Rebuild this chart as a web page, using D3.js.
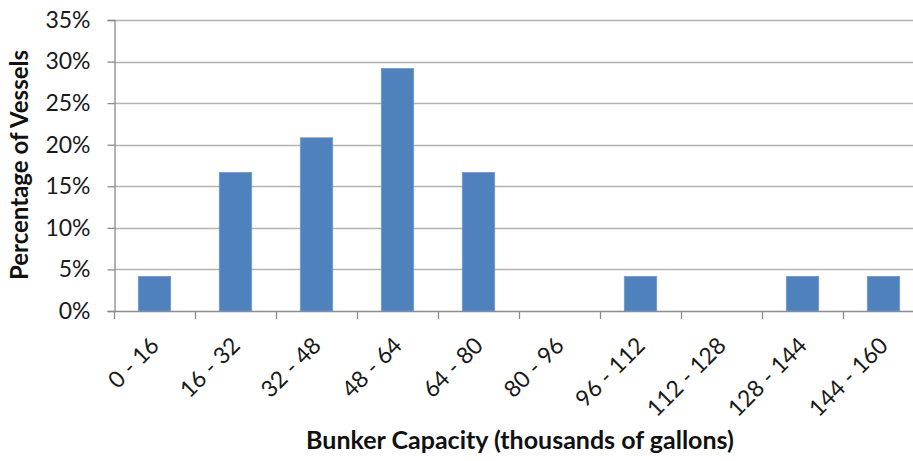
<!DOCTYPE html>
<html>
<head>
<meta charset="utf-8">
<script src="https://cdn.jsdelivr.net/npm/d3@7"></script>
<style>
  html, body { margin: 0; padding: 0; background: #fff; }
  svg { display: block; }
</style>
</head>
<body>
<svg id="chart" width="913" height="461"></svg>
<script>
// Bunker capacity bins (thousands of gallons) and share of vessels in each
const categories = ["0 - 16", "16 - 32", "32 - 48", "48 - 64", "64 - 80",
                    "80 - 96", "96 - 112", "112 - 128", "128 - 144", "144 - 160"];
const vesselCounts = [1, 4, 5, 7, 4, 0, 1, 0, 1, 1];
const totalVessels = 24;
const percentages = vesselCounts.map(c => c / totalVessels);
const yTicks = [0, 0.05, 0.10, 0.15, 0.20, 0.25, 0.30, 0.35];

const svg = d3.select("#chart");
const margin = { left: 114, top: 20, right: -11 };
const W = 913;
const plotBottom = 311;

const x = d3.scaleBand()
  .domain(categories)
  .range([margin.left, W - margin.right])
  .paddingInner(0.6)
  .paddingOuter(0.3);

const y = d3.scaleLinear()
  .domain([0, 0.35])
  .range([plotBottom, margin.top]);

const font = "Lato, 'Open Sans', sans-serif";
const gridColor = "#b3b3b3";
const axisColor = "#8c8c8c";
const textColor = "#1a1a1a";

// horizontal gridlines
svg.append("g")
  .selectAll("line")
  .data(yTicks.slice(1))
  .join("line")
  .attr("x1", margin.left)
  .attr("x2", W - margin.right)
  .attr("y1", d => Math.round(y(d)) + 0.5)
  .attr("y2", d => Math.round(y(d)) + 0.5)
  .attr("stroke", gridColor)
  .attr("stroke-width", 1.5);

// bars
svg.append("g")
  .selectAll("rect")
  .data(categories.map((c, i) => ({ c, v: percentages[i] })))
  .join("rect")
  .attr("x", d => x(d.c))
  .attr("width", x.bandwidth())
  .attr("y", d => y(d.v))
  .attr("height", d => y(0) - y(d.v))
  .attr("fill", "#4F81BD")
  .attr("stroke", "#6b9bd1")
  .attr("stroke-width", d => d.v > 0 ? 0.8 : 0);

// y axis
const yAxis = svg.append("g")
  .attr("transform", `translate(${margin.left + 0.5},0)`)
  .call(d3.axisLeft(y).tickValues(yTicks).tickFormat(d3.format(".0%")).tickSize(7).tickPadding(17));
yAxis.select(".domain").attr("stroke", axisColor).attr("stroke-width", 1.3);
yAxis.selectAll(".tick line").attr("stroke", axisColor).attr("stroke-width", 1.3);
yAxis.selectAll(".tick text")
  .attr("font-family", font)
  .attr("font-size", 23)
  .attr("fill", textColor);

// x axis: ticks at bin boundaries
const step = x.step();
const boundaries = d3.range(categories.length + 1).map(i => margin.left + i * step);
const xg = svg.append("g");
xg.append("line")
  .attr("x1", margin.left)
  .attr("x2", W - margin.right)
  .attr("y1", plotBottom + 0.5)
  .attr("y2", plotBottom + 0.5)
  .attr("stroke", axisColor)
  .attr("stroke-width", 1.3);
xg.selectAll("line.tick")
  .data(boundaries)
  .join("line")
  .attr("class", "tick")
  .attr("x1", d => Math.round(d) + 0.5)
  .attr("x2", d => Math.round(d) + 0.5)
  .attr("y1", plotBottom)
  .attr("y2", plotBottom + 8)
  .attr("stroke", axisColor)
  .attr("stroke-width", 1.3);

// rotated category labels
xg.selectAll("text")
  .data(categories)
  .join("text")
  .attr("transform", d => `translate(${x(d) + x.bandwidth() / 2 + 6},${plotBottom + 36}) rotate(-45)`)
  .attr("text-anchor", "end")
  .attr("font-family", font)
  .attr("font-size", 23)
  .attr("fill", textColor)
  .text(d => d);

// axis titles
svg.append("text")
  .attr("transform", `translate(28,165) rotate(-90)`)
  .attr("text-anchor", "middle")
  .attr("font-family", font)
  .attr("font-weight", "bold")
  .attr("font-size", 24)
  .attr("fill", "#111")
  .text("Percentage of Vessels");

svg.append("text")
  .attr("x", 520)
  .attr("y", 449)
  .attr("text-anchor", "middle")
  .attr("font-family", font)
  .attr("font-weight", "bold")
  .attr("font-size", 25)
  .attr("fill", "#111")
  .text("Bunker Capacity (thousands of gallons)");
</script>
</body>
</html>
